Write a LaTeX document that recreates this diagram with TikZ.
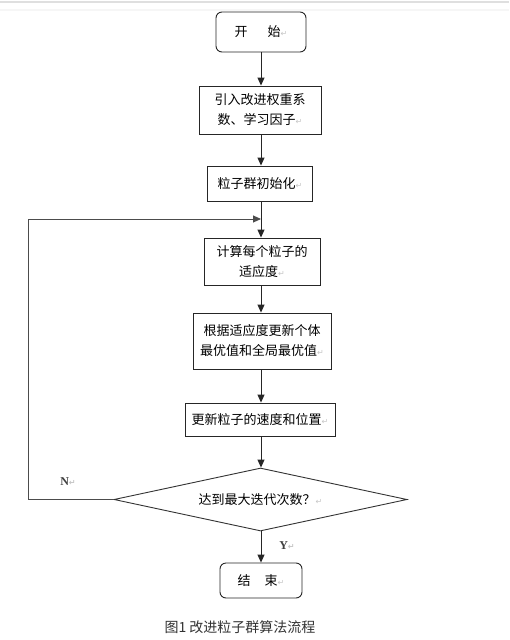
\documentclass[tikz,border=0pt]{standalone}
\usepackage{fontspec}
\setmainfont{Liberation Serif}
\newfontfamily\cjk{Noto Sans CJK SC}
\newfontfamily\symf{DejaVu Sans}
\usetikzlibrary{shapes.geometric,arrows.meta}
\newcommand{\pmark}{{\symf\fontsize{8}{8}\selectfont\color{gray!45}↵}}
\tikzset{
  box/.style={draw=black!85,line width=0.9pt,fill=white,inner sep=2pt,align=center,font=\cjk\fontsize{13}{20}\selectfont},
  term/.style={box,rounded corners=6pt},
  decision/.style={draw=black!80,line width=0.9pt,shape=diamond,aspect=4.65,inner sep=0pt,font=\cjk\fontsize{13}{20}\selectfont},
  arr/.style={draw=black!85,line width=0.9pt,-{Triangle[length=8pt,width=7pt]}},
  lbl/.style={font=\fontsize{12}{12}\selectfont\bfseries,text=black!75}
}
\begin{document}
\begin{tikzpicture}[x=1pt,y=-1pt]
\useasboundingbox[fill=white] (0,0) rectangle (509,640);
\fill[gray!25] (0,1) rectangle (509,2.5);
\fill[gray!7] (0,8.5) rectangle (509,11);
\node[term,minimum width=90pt,minimum height=40pt] (start) at (261,32) {开\hspace{20pt}始\pmark};
\node[box,minimum width=122pt,minimum height=48pt] (b1) at (260,110) {引入改进权重系\\数、学习因子\pmark};
\node[box,minimum width=105pt,minimum height=35pt] (b2) at (260,183.5) {粒子群初始化\pmark};
\node[box,minimum width=116pt,minimum height=47pt] (b3) at (262,261.5) {计算每个粒子的\\适应度\pmark};
\node[box,minimum width=138pt,minimum height=56pt] (b4) at (262,341) {根据适应度更新个体\\最优值和全局最优值\pmark};
\node[box,minimum width=150pt,minimum height=33pt] (b5) at (260,419.5) {更新粒子的速度和位置\pmark};
\node[decision,minimum width=293pt,minimum height=63pt] (d) at (260.5,499.5) {达到最大迭代次数？\pmark};
\node[term,minimum width=82pt,minimum height=35pt] (end) at (261,580.5) {结\hspace{14pt}束\pmark};
\node[lbl] (n) at (68,482) {N\pmark};
\node[lbl] (y) at (287,546) {Y\pmark};
\node[font=\cjk\fontsize{14}{14}\selectfont,text=black!80] (cap) at (240,627) {图1 改进粒子群算法流程};
\coordinate (corner) at (28,219);
\coordinate (join) at (261,219);
\draw[arr] (start.south -| join) -- (b1.north -| join);
\draw[arr] (b1.south -| join) -- (b2.north -| join);
\draw[draw=black!85,line width=0.9pt] (b2.south -| join) -- (join);
\draw[arr] (join) -- (b3.north -| join);
\draw[arr] (b3.south -| join) -- (b4.north -| join);
\draw[arr] (b4.south -| join) -- (b5.north -| join);
\draw[arr] (b5.south -| join) -- (d.north -| join);
\draw[arr] (d.south -| join) -- (end.north -| join);
\draw[arr,draw=black!70] (d.west) -- (d.west -| corner) -- (corner) -- (join);
\end{tikzpicture}
\end{document}
